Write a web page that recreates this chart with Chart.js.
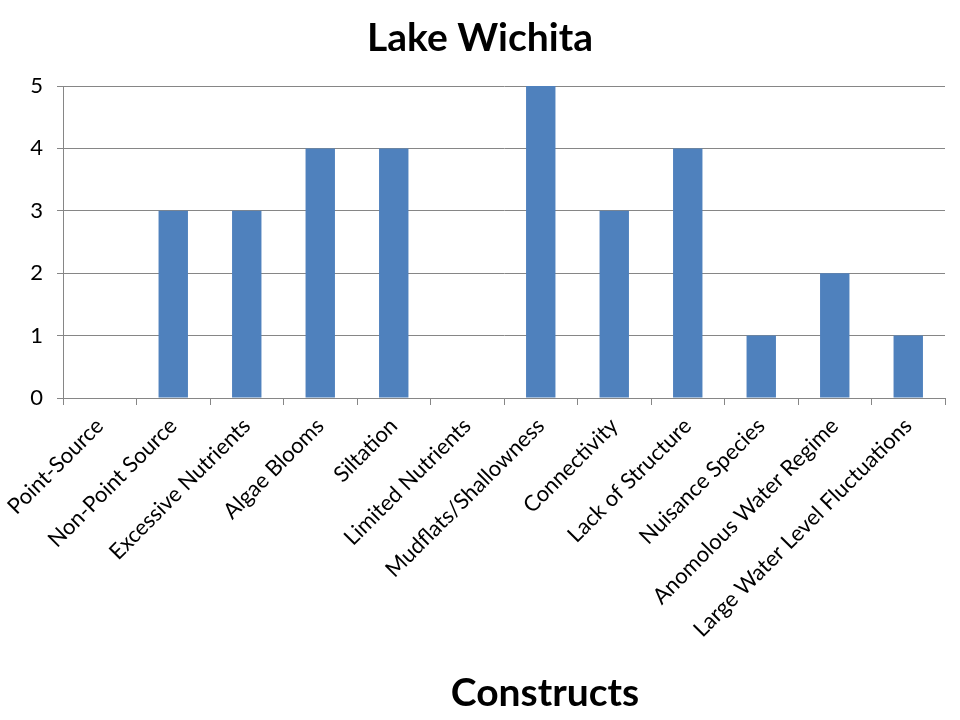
<!DOCTYPE html>
<html>
<head>
<meta charset="utf-8">
<script src="https://cdn.jsdelivr.net/npm/chart.js@4/dist/chart.umd.min.js"></script>
<style>
  html, body { margin: 0; padding: 0; background: #fff; }
  #wrap { width: 960px; height: 720px; }
</style>
</head>
<body>
<div id="wrap"><canvas id="chart" width="960" height="720"></canvas></div>
<script>
// Lake Wichita — construct counts
const categories = [
  'Point-Source', 'Non-Point Source', 'Excessive Nutrients', 'Algae Blooms',
  'Siltation', 'Limited Nutrients', 'Mudflats/Shallowness', 'Connectivity',
  'Lack of Structure', 'Nuisance Species', 'Anomolous Water Regime',
  'Large Water Level Fluctuations'
];
const counts = [0, 3, 3, 4, 4, 0, 5, 3, 4, 1, 2, 1];
const yTicks = [0, 1, 2, 3, 4, 5];

const FONT = 'Lato, "Open Sans", sans-serif';
const GRID = '#868686';

// title centred on the page, x-axis title a bit right of the plot centre
const titles = {
  id: 'titles',
  afterDraw(chart) {
    const ctx = chart.ctx;
    const area = chart.chartArea;
    ctx.save();
    ctx.font = 'bold 39px ' + FONT;
    ctx.fillStyle = '#000';
    ctx.textAlign = 'center';
    ctx.textBaseline = 'middle';
    ctx.fillText('Lake Wichita', chart.width / 2, 38);
    ctx.fillText('Constructs', (area.left + area.right) / 2 + 41, 693);
    ctx.restore();
  }
};

new Chart(document.getElementById('chart'), {
  type: 'bar',
  data: {
    labels: categories,
    datasets: [{
      label: 'Lake Wichita',
      data: counts,
      backgroundColor: '#4F81BD',
      borderWidth: 0,
      categoryPercentage: 1,
      barPercentage: 0.4
    }]
  },
  options: {
    responsive: false,
    animation: false,
    layout: { padding: { left: 0, right: 15, top: 86, bottom: 0 } },
    plugins: {
      legend: { display: false },
      tooltip: { enabled: false },
      title: { display: false }
    },
    scales: {
      x: {
        ticks: {
          color: '#000', font: { family: FONT, size: 22 },
          autoSkip: false, minRotation: 45, maxRotation: 45, padding: 8
        },
        grid: { offset: true, drawOnChartArea: false, drawTicks: true, tickLength: 7, color: GRID },
        border: { color: GRID },
        afterFit: s => { s.height = 322; }
      },
      y: {
        min: 0, max: 5,
        afterBuildTicks: s => { s.ticks = yTicks.map(v => ({ value: v })); },
        ticks: { color: '#000', font: { family: FONT, size: 22 }, padding: 14 },
        grid: { color: GRID, tickLength: 6 },
        border: { color: GRID },
        afterFit: s => { s.width = 63; }
      }
    }
  },
  plugins: [titles]
});
</script>
</body>
</html>
